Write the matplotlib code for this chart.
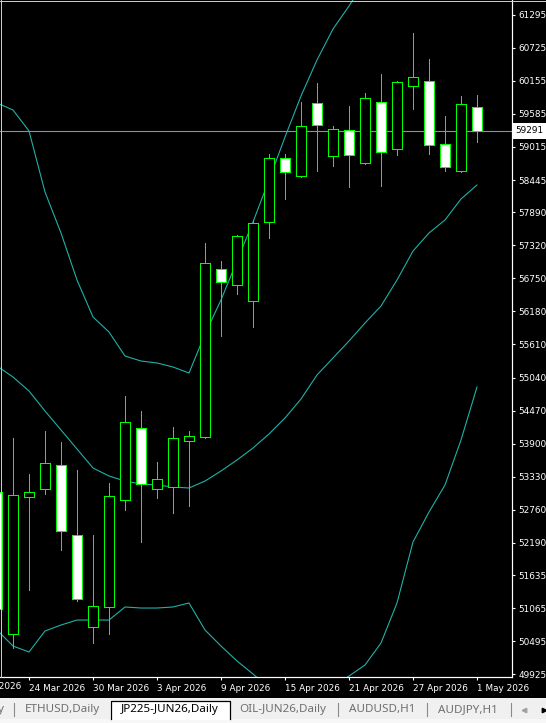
import matplotlib
matplotlib.use("Agg")
import matplotlib.pyplot as plt
from matplotlib.patches import Rectangle
from matplotlib.lines import Line2D
import numpy as np

# ---------------- data ----------------
dates = ["2026-03-20", "2026-03-23", "2026-03-24", "2026-03-25", "2026-03-26", "2026-03-27",
         "2026-03-30", "2026-03-31", "2026-04-01", "2026-04-02", "2026-04-03",
         "2026-04-06", "2026-04-07", "2026-04-08", "2026-04-09", "2026-04-10",
         "2026-04-13", "2026-04-14", "2026-04-15", "2026-04-16", "2026-04-17",
         "2026-04-20", "2026-04-21", "2026-04-22", "2026-04-23", "2026-04-24",
         "2026-04-27", "2026-04-28", "2026-04-29", "2026-04-30", "2026-05-01"]

open_ = [53062, 50614, 52975, 53113, 53527, 52320, 50745, 51090, 52924, 54165, 53113,
         53158, 53941, 54020, 56906, 56630, 56354, 57716, 58819, 58509, 59767,
         58854, 59302, 58733, 59785, 58974, 60060, 60147, 59061, 58595, 59698]
high = [53250, 53993, 53377, 54118, 53929, 53446, 52326, 53217, 54722, 54458, 53584,
        54187, 54118, 57359, 57049, 57492, 57756, 58893, 58893, 59795, 60117,
        59376, 59721, 59945, 60272, 60152, 60979, 60531, 59548, 59893, 59910]
low = [50950, 50373, 51378, 53027, 52072, 51193, 50469, 50624, 52762, 52210, 52969,
       52710, 52831, 54003, 55761, 56485, 55916, 57450, 58123, 58500, 58600,
       58692, 58330, 58720, 58347, 58881, 59674, 58899, 58606, 58590, 59105]
close = [51045, 53010, 53062, 53562, 52389, 51228, 51097, 52993, 54268, 53200, 53286,
         53993, 54027, 57009, 56682, 57475, 57699, 58819, 58588, 59371, 59388,
         59319, 58871, 59854, 58923, 60135, 60216, 59043, 58669, 59750, 59291]

bb_upper = [59773, 59652, 59290, 58238, 57532, 56721, 56084, 55825, 55411, 55325, 55291,
            55222, 55118, 55790, 56377, 57049, 57721, 58445, 59186, 59893, 60514,
            61048, 61445, 61876, 62082, 62289, 62238, 62341, 62324, 62272, 61841]
bb_middle = [55239, 55049, 54808, 54463, 54136, 53808, 53481, 53343, 53256, 53205, 53188,
             53153, 53136, 53256, 53429, 53619, 53825, 54067, 54343, 54670, 55084,
             55377, 55670, 55980, 56273, 56721, 57221, 57532, 57756, 58118, 58359]
bb_lower = [50688, 50412, 50309, 50671, 50774, 50860, 50860, 50860, 51085, 51067, 51067,
            51085, 51154, 50688, 50412, 50154, 49930, 49688, 49499, 49447, 49654,
            49706, 49895, 50085, 50464, 51154, 52205, 52722, 53188, 53963, 54877]

current_price = 59291

price_ticks = [61295, 60725, 60155, 59585, 59015, 58445, 57890, 57320, 56750, 56180,
               55610, 55040, 54470, 53900, 53330, 52760, 52190, 51635, 51065, 50495, 49925]

date_tick_dates = ["2026-03-18", "2026-03-24", "2026-03-30", "2026-04-03", "2026-04-09",
                   "2026-04-15", "2026-04-21", "2026-04-27", "2026-05-01"]
date_tick_labels = ["18 Mar 2026", "24 Mar 2026", "30 Mar 2026", "3 Apr 2026", "9 Apr 2026",
                    "15 Apr 2026", "21 Apr 2026", "27 Apr 2026", "1 May 2026"]

tab_labels = ["y", "ETHUSD,Daily", "JP225-JUN26,Daily", "OIL-JUN26,Daily", "AUDUSD,H1", "AUDJPY,H1"]
active_tab = "JP225-JUN26,Daily"

# ---------------- figure ----------------
W, H = 546, 723
fig = plt.figure(figsize=(W / 100, H / 100), dpi=100, facecolor="black")

ax_left_px, ax_right_px, ax_top_px, ax_bot_px = 0, 512, 0, 677
ax = fig.add_axes([ax_left_px / W, (H - ax_bot_px) / H,
                   (ax_right_px - ax_left_px) / W, (ax_bot_px - ax_top_px) / H])
ax.set_facecolor("black")

n = len(dates)
x = np.arange(n)
bar_px = 16.0
ax.set_xlim(3 / bar_px, (ax_right_px + 3) / bar_px)
ax.set_ylim(49878, 61548)

GREEN = "#00FF00"
BAND = "#20B2AA"
PX = 0.72  # one pixel in points at 100 dpi

# Bollinger bands
for band in (bb_upper, bb_middle, bb_lower):
    ax.plot(x, band, color=BAND, lw=PX * 1.1, zorder=2, antialiased=True)

# price line
ax.axhline(current_price, color="#8094a8", lw=PX * 1.1, zorder=1)

# candles
body_w = 0.6
for i in range(n):
    o, h, l, c = open_[i], high[i], low[i], close[i]
    ax.vlines(x[i], l, h, color=GREEN, lw=PX, zorder=3, antialiased=False)
    fc = "black" if c >= o else "white"
    bottom = min(o, c)
    ht = max(abs(c - o), 1)
    ax.add_patch(Rectangle((x[i] - body_w / 2, bottom), body_w, ht,
                           facecolor=fc, edgecolor=GREEN, lw=PX, zorder=4,
                           antialiased=False))

# spines
for s in ("top", "left"):
    ax.spines[s].set_visible(False)
for s in ("right", "bottom"):
    ax.spines[s].set_color("white")
    ax.spines[s].set_linewidth(PX * 1.2)

FS = 6.4
# y axis on right
ax.yaxis.tick_right()
ax.set_yticks(price_ticks)
ax.set_yticklabels([str(p) for p in price_ticks])
ax.tick_params(axis="y", colors="white", labelcolor="white", length=2.5, width=0.8,
               direction="out", pad=2.2, labelsize=FS)

# x axis ticks
first = np.datetime64(dates[0])
tick_pos = [int(np.busday_count(first, np.datetime64(d))) if np.datetime64(d) >= first
            else -int(np.busday_count(np.datetime64(d), first)) for d in date_tick_dates]
xlim = ax.get_xlim()
vis_pos = [p for p in tick_pos if xlim[0] <= p <= xlim[1]]
vis_lab = [lab for p, lab in zip(tick_pos, date_tick_labels) if xlim[0] <= p <= xlim[1]]
ax.set_xticks(vis_pos)
ax.set_xticklabels(vis_lab)
for t in ax.get_xticklabels():
    t.set_ha("left")
ax.tick_params(axis="x", colors="white", labelcolor="white", length=2.5, width=0.8,
               direction="out", pad=2.3, labelsize=FS)
# labels whose tick falls left of the visible area (partially visible)
for p, lab in zip(tick_pos, date_tick_labels):
    if p < xlim[0]:
        ax.text(p, -0.0143, lab, transform=ax.get_xaxis_transform(), color="white",
                fontsize=FS, ha="left", va="center", clip_on=False)

# current price box on the axis
ax.text(1.0 + 3.5 / ax_right_px, current_price, str(current_price),
        transform=ax.get_yaxis_transform(), color="black", fontsize=FS,
        ha="left", va="center", zorder=10, clip_on=False,
        bbox=dict(boxstyle="square,pad=0.4", fc="white", ec="none"))

# thin light border top/left (window frame)
fig.add_artist(Line2D([0, 1], [1 - 0.5 / H, 1 - 0.5 / H], color="#d0d0d0", lw=0.7))
fig.add_artist(Line2D([0.5 / W, 0.5 / W], [(H - ax_bot_px) / H, 1], color="#d0d0d0", lw=0.7))

# ---------------- tab bar ----------------
bar_top = 698
tb = fig.add_axes([0, 0, 1, (H - bar_top) / H])
tb.set_xlim(0, W)
tb.set_ylim(H, bar_top)
tb.set_facecolor("#f0f0f0")
tb.set_axis_off()
tb.add_patch(Rectangle((0, bar_top), W, H - bar_top, facecolor="#f0f0f0", edgecolor="none", zorder=0))
tb.add_patch(Rectangle((0, 719), W, 4, facecolor="#f7f7f7", edgecolor="none", zorder=0.5))

tab_centers = [0, 62, 170, 283, 382, 467.5]
sep_x = [14.3, 338.3, 426.7, 510.7]
text_y = 709.5
TFS = 8.4
for lab, cx in zip(tab_labels, tab_centers):
    if lab == active_tab:
        tb.add_patch(Rectangle((110, 700.5), 120, 19, facecolor="white", edgecolor="none", zorder=1))
        tb.plot([110.5, 110.5, 229.5, 229.5], [719, 700.5, 700.5, 719], color="black", lw=0.9, zorder=2)
        tb.text(cx, text_y, lab, color="black", fontsize=TFS, family="Noto Sans",
                ha="center", va="center", zorder=3)
    elif lab == "y":
        tb.text(3.5, text_y, lab, color="#707070", fontsize=TFS, family="Noto Sans",
                ha="right", va="center", zorder=3)
    else:
        tb.text(cx, text_y, lab, color="#707070", fontsize=TFS, family="Noto Sans",
                ha="center", va="center", zorder=3)
for sx in sep_x:
    tb.plot([sx, sx], [703, 716], color="#8a8a8a", lw=0.8, zorder=2)
tb.plot([524], [text_y], marker="<", color="#a0a0a0", markersize=3.2, zorder=3)
tb.plot([543.5], [text_y], marker=">", color="black", markersize=3.2, zorder=3)

fig.savefig("out.png", dpi=100, facecolor="black")
